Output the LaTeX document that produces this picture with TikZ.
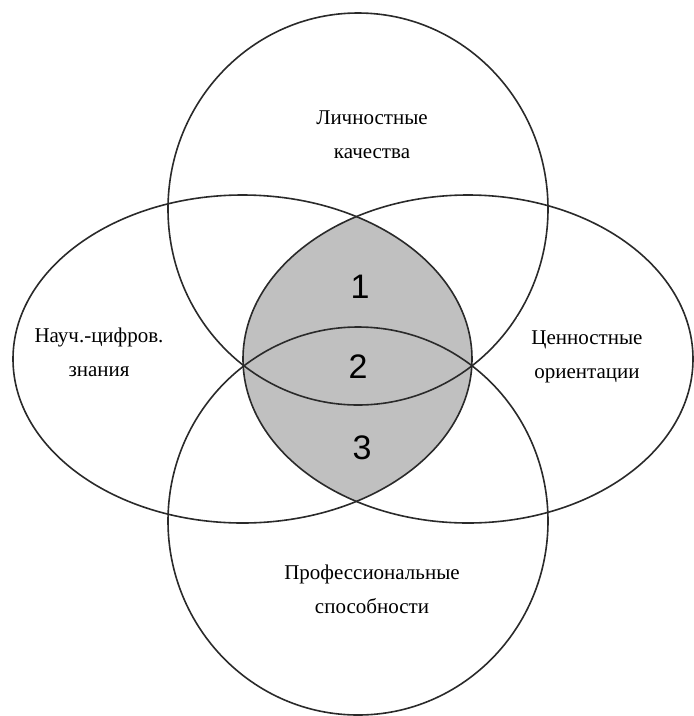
\documentclass[tikz,border=0pt]{standalone}
\usepackage{fontspec}
\setmainfont{Liberation Serif}
\newfontfamily\digitfont{Liberation Sans}
\definecolor{linegray}{HTML}{2A2A2A}
\definecolor{lensgray}{HTML}{C0C0C0}
\begin{document}
\begin{tikzpicture}[x=1pt,y=-1pt,
  outline/.style={draw=linegray, line width=1.6pt},
  lensfill/.style={fill=lensgray},
  lbl/.style={font=\fontsize{21}{34}\selectfont, align=center, text=black},
  num/.style={font=\digitfont\fontsize{34}{34}\selectfont, text=black}]
\useasboundingbox (0,0) rectangle (694,716);
% shaded intersection of the two horizontal ellipses
\begin{scope}
  \clip (242.5,359) ellipse [x radius=229.5pt, y radius=164pt];
  \fill[lensfill] (468,359) ellipse [x radius=225pt, y radius=164pt];
\end{scope}
% outlines
\draw[outline] (358,209) ellipse [x radius=190pt, y radius=196pt];
\draw[outline] (358,521) ellipse [x radius=190pt, y radius=194pt];
\draw[outline] (242.5,359) ellipse [x radius=229.5pt, y radius=164pt];
\draw[outline] (468,359) ellipse [x radius=225pt, y radius=164pt];
% labels
\node[lbl] (lq) at (372,135) {Личностные\\качества};
\node[lbl] (nz) at (99,352) {Науч.-цифров.\\знания};
\node[lbl, fill=white, inner xsep=14pt, inner ysep=14pt] (co) at (587,357) {Ценностные\\ориентации};
\node[lbl] (ps) at (372,589) {Профессиональные\\способности};
\node[num] (n1) at (360,287) {1};
\node[num] (n2) at (358,367) {2};
\node[num] (n3) at (362,448) {3};
\end{tikzpicture}
\end{document}
